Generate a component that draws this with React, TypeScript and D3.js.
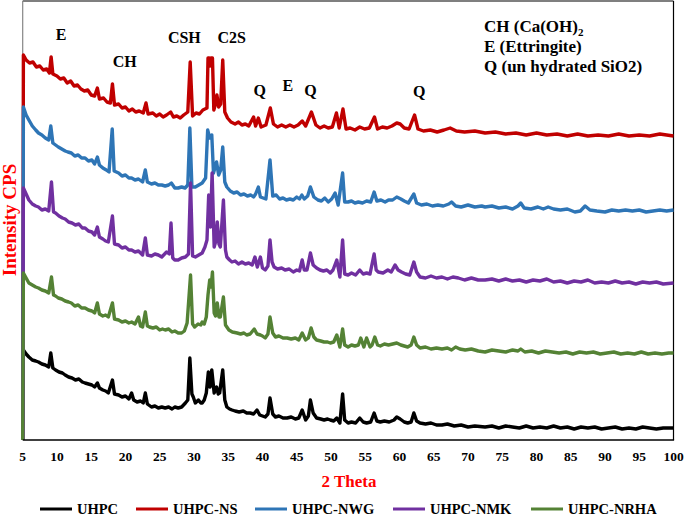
import React from "react";
import * as d3 from "d3";

// ---------- data ----------
const xTicks = [5, 10, 15, 20, 25, 30, 35, 40, 45, 50, 55, 60, 65, 70, 75, 80, 85, 90, 95, 100];

const seriesNames = ["UHPC", "UHPC-NS", "UHPC-NWG", "UHPC-NMK", "UHPC-NRHA"];
const seriesColors = ["#000000", "#C00000", "#2E75B6", "#7030A0", "#548235"];

// [2θ, intensity (stacked, arbitrary CPS units)]
const uhpc: [number, number][] = [[5.0,0],[5.1,90],[5.5,86],[5.9,83],[6.4,80],[6.9,79],[7.3,78],[7.8,76],[8.3,75],[8.8,73],[9.1,87],[9.4,72],[9.8,70],[10.3,68],[10.8,67],[11.2,65],[11.7,63],[12.2,62],[12.7,60],[13.2,61],[13.7,58],[14.1,57],[14.6,56],[15.1,55],[15.5,53],[15.9,57],[16.2,52],[16.7,50],[17.1,49],[17.5,47],[18.1,60],[18.4,46],[19.0,45],[19.5,43],[20.0,44],[20.5,41],[20.9,47],[21.2,40],[21.7,38],[22.2,39],[22.6,37],[22.9,47],[23.2,36],[23.8,33],[24.3,34],[24.8,32],[25.3,33],[25.8,32],[26.3,33],[26.8,31],[27.2,33],[27.7,32],[28.2,33],[28.75,37],[29.1,40],[29.4,82],[29.7,46],[29.9,43],[30.2,37],[30.65,40],[31.0,37],[31.2,37],[31.5,40],[31.8,47],[32.1,68],[32.35,53],[32.6,70],[32.95,47],[33.1,50],[33.3,53],[33.55,46],[33.75,47],[34.2,70],[34.5,40],[34.8,33],[35.2,31],[35.55,30],[36.0,29],[36.6,28],[37.2,29],[37.7,27],[38.2,27],[38.7,26],[39.2,30],[39.6,25],[40.0,24],[40.4,23],[40.8,26],[41.1,42],[41.5,26],[41.9,23],[42.4,24],[43.0,22],[43.6,22],[44.2,23],[44.8,21],[45.3,22],[45.8,30],[46.3,20],[46.7,24],[47.0,40],[47.4,27],[47.9,22],[48.5,21],[49.0,20],[49.5,21],[49.9,20],[50.4,19],[50.85,22],[51.3,17],[51.7,46],[52.0,20],[52.5,17],[53.0,18],[53.6,17],[54.2,22],[54.7,18],[55.2,17],[55.8,18],[56.3,27],[56.7,19],[57.2,18],[57.8,19],[58.5,18],[59.2,20],[59.6,23],[60.1,21],[60.7,18],[61.2,17],[61.7,18],[62.1,27],[62.5,19],[63.0,17],[63.8,16],[64.6,17],[65.4,15],[66.2,15],[67.0,16],[68.0,14],[69.0,15],[70.0,13],[71.0,14],[72.5,13],[73.5,14],[74.5,12],[75.5,14],[76.5,13],[77.5,12],[78.5,14],[79.5,12],[80.5,13],[81.5,12],[82.5,14],[83.5,12],[84.5,13],[85.5,11],[86.5,13],[87.5,12],[88.5,13],[89.5,11],[90.5,12],[91.5,13],[92.5,11],[93.5,12],[94.5,11],[95.5,13],[96.5,12],[97.5,11],[98.5,12],[100.0,12]];

const uhpcNS: [number, number][] = [[5.0,0],[5.1,385],[5.5,380],[6.0,377],[6.5,378],[7.0,373],[7.5,374],[8.0,370],[8.5,371],[8.9,367],[9.15,383],[9.4,366],[10.0,364],[10.5,361],[11.0,362],[11.5,357],[12.0,359],[12.5,354],[13.0,355],[13.5,351],[14.0,349],[14.5,350],[15.0,345],[15.5,344],[15.9,352],[16.2,341],[16.8,342],[17.3,338],[17.8,337],[18.1,356],[18.4,335],[19.0,336],[19.5,332],[20.0,333],[20.5,329],[21.0,331],[21.5,328],[22.0,329],[22.6,327],[23.0,337],[23.3,326],[24.0,327],[24.5,324],[25.0,326],[25.5,323],[26.0,325],[26.6,328],[27.0,323],[27.5,324],[28.0,322],[28.5,325],[29.1,328],[29.45,378],[29.8,324],[30.3,327],[30.8,326],[31.3,330],[31.9,332],[32.05,382],[32.2,382],[32.35,374],[32.5,382],[32.7,382],[32.9,330],[33.1,335],[33.35,345],[33.6,333],[33.9,336],[34.2,380],[34.5,328],[34.9,322],[35.4,318],[36.0,316],[36.5,318],[37.0,315],[37.5,316],[38.0,314],[38.7,323],[39.0,314],[39.4,322],[39.8,313],[40.5,315],[41.15,332],[41.6,316],[42.2,313],[42.8,315],[43.4,313],[44.0,315],[44.6,313],[45.2,315],[45.8,319],[46.3,314],[47.15,328],[47.8,315],[48.4,312],[49.0,314],[49.6,312],[50.2,313],[50.8,327],[51.2,312],[51.75,331],[52.2,311],[52.8,312],[53.5,310],[54.2,313],[54.9,311],[55.6,312],[56.35,323],[56.8,311],[57.5,313],[58.2,312],[58.9,314],[59.6,317],[60.1,316],[60.7,312],[61.4,311],[62.2,325],[62.7,311],[63.5,309],[64.5,310],[65.5,308],[66.5,310],[67.4,312],[68.3,309],[69.5,308],[71.0,309],[72.5,307],[74.0,308],[75.5,306],[77.0,307],[78.5,305],[80.0,307],[81.5,305],[83.0,306],[84.5,304],[86.0,306],[87.5,304],[89.0,305],[90.5,304],[92.0,306],[93.5,304],[95.0,305],[96.5,304],[98.0,306],[100.0,304]];

const uhpcNWG: [number, number][] = [[5.0,0],[5.1,333],[5.5,325],[5.9,320],[6.4,314],[6.9,310],[7.3,307],[7.8,305],[8.3,302],[8.8,300],[9.1,314],[9.4,297],[9.8,295],[10.2,293],[10.7,291],[11.2,289],[11.6,288],[12.1,287],[12.6,284],[13.1,285],[13.6,282],[14.1,282],[14.6,279],[15.1,280],[15.5,276],[15.9,283],[16.2,275],[16.7,272],[17.2,270],[17.6,268],[18.07,311],[18.35,269],[19.0,267],[19.5,264],[20.0,265],[20.5,262],[20.9,262],[21.4,260],[21.9,261],[22.5,258],[22.9,270],[23.2,258],[23.8,256],[24.3,257],[24.8,255],[25.3,255],[25.8,254],[26.3,255],[26.7,257],[27.2,252],[27.7,252],[28.2,253],[28.7,252],[29.1,255],[29.4,312],[29.7,253],[30.2,253],[30.7,255],[31.2,257],[31.7,262],[32.0,310],[32.3,302],[32.6,305],[32.85,267],[33.05,272],[33.3,278],[33.6,265],[33.9,270],[34.2,293],[34.5,258],[34.8,253],[35.3,249],[35.8,247],[36.3,248],[36.8,245],[37.3,246],[37.8,244],[38.3,245],[38.7,243],[39.0,246],[39.4,253],[39.7,243],[40.1,242],[40.5,241],[41.1,280],[41.5,244],[42.0,245],[42.5,241],[43.0,242],[43.5,240],[44.0,241],[44.5,240],[45.0,243],[45.4,241],[45.75,245],[46.1,241],[46.6,244],[47.0,253],[47.5,243],[48.1,240],[48.6,239],[49.1,242],[49.6,238],[50.1,241],[50.6,247],[51.05,235],[51.7,267],[52.0,238],[52.5,238],[53.0,239],[53.5,237],[54.0,238],[54.6,237],[55.2,239],[55.8,238],[56.3,248],[56.7,239],[57.3,240],[57.9,238],[58.4,240],[59.0,240],[59.6,243],[60.2,241],[60.7,239],[61.3,237],[62.1,246],[62.5,237],[63.2,235],[64.0,236],[64.8,234],[65.6,235],[66.4,234],[67.2,236],[67.6,238],[68.2,234],[69.0,233],[70.0,235],[71.0,233],[72.0,234],[72.5,233],[73.5,234],[74.5,232],[75.5,233],[76.5,231],[77.3,234],[77.7,237],[78.2,232],[79.2,231],[80.2,233],[81.0,231],[81.7,233],[82.5,231],[83.5,230],[84.5,231],[85.6,228],[86.4,229],[87.1,234],[87.8,230],[88.8,229],[90.0,228],[91.0,230],[92.0,229],[93.0,230],[94.0,229],[95.0,230],[96.0,228],[97.0,229],[98.0,230],[99.0,229],[100.0,230]];

const uhpcNMK: [number, number][] = [[5.0,0],[5.1,252],[5.5,246],[5.9,240],[6.4,236],[6.9,234],[7.3,233],[7.8,230],[8.3,231],[8.8,229],[9.2,258],[9.5,228],[9.8,227],[10.3,224],[10.8,222],[11.2,221],[11.7,218],[12.2,217],[12.7,215],[13.2,216],[13.7,212],[14.1,212],[14.6,209],[15.1,208],[15.5,205],[15.9,213],[16.2,203],[16.7,201],[17.1,199],[17.5,198],[18.1,224],[18.4,196],[19.0,195],[19.5,192],[20.0,193],[20.5,190],[20.9,190],[21.4,188],[21.9,189],[22.5,185],[22.9,202],[23.2,185],[23.8,184],[24.3,186],[24.8,185],[25.3,183],[26.0,188],[26.4,186],[26.65,217],[26.9,182],[27.2,180],[27.7,180],[28.2,182],[28.75,183],[29.2,186],[29.5,257],[29.8,184],[30.2,183],[30.7,185],[31.2,187],[31.6,193],[31.9,200],[32.15,245],[32.4,213],[32.65,267],[32.95,193],[33.15,198],[33.4,218],[33.65,196],[33.85,193],[34.3,240],[34.6,190],[34.8,183],[35.2,180],[35.55,178],[36.0,179],[36.5,176],[37.0,178],[37.5,176],[38.0,177],[38.5,175],[38.9,183],[39.25,173],[39.7,183],[40.0,172],[40.4,170],[40.8,174],[41.1,200],[41.4,178],[41.7,173],[42.2,171],[42.8,172],[43.3,170],[43.9,171],[44.5,168],[45.0,170],[45.4,169],[45.8,180],[46.1,170],[46.5,170],[47.0,187],[47.4,175],[47.9,172],[48.4,170],[48.9,169],[49.4,170],[49.9,167],[50.3,170],[50.85,180],[51.3,163],[51.7,200],[52.0,166],[52.5,165],[53.0,167],[53.6,165],[54.2,170],[54.7,166],[55.2,167],[55.7,166],[56.3,186],[56.6,170],[56.9,168],[57.6,167],[58.3,170],[58.8,168],[59.35,175],[59.8,170],[60.3,168],[60.9,166],[61.5,165],[62.1,178],[62.5,168],[63.0,163],[63.8,162],[64.6,164],[65.4,162],[66.2,163],[67.0,161],[67.8,163],[68.6,162],[69.5,160],[70.5,162],[71.5,160],[72.5,160],[73.5,161],[74.5,159],[75.5,161],[76.5,159],[77.5,160],[78.5,158],[79.5,160],[80.5,159],[81.5,161],[82.5,158],[83.5,159],[84.5,157],[85.5,159],[86.5,158],[87.5,160],[88.5,157],[89.5,158],[90.5,157],[91.5,159],[92.5,157],[93.5,158],[94.5,156],[95.5,158],[96.5,157],[97.5,158],[98.5,156],[100.0,157]];

const uhpcNRHA: [number, number][] = [[5.0,0],[5.1,167],[5.5,162],[5.9,157],[6.4,155],[6.9,153],[7.3,152],[7.8,150],[8.3,149],[8.8,147],[9.2,163],[9.5,145],[9.8,144],[10.2,142],[10.7,141],[11.2,139],[11.7,138],[12.1,137],[12.6,134],[13.1,135],[13.6,132],[14.1,132],[14.6,130],[15.1,129],[15.5,127],[15.9,137],[16.2,126],[16.7,124],[17.1,125],[17.5,123],[18.1,137],[18.4,121],[19.0,120],[19.5,118],[20.0,119],[20.5,117],[20.9,118],[21.4,116],[21.9,123],[22.2,114],[22.5,113],[22.9,128],[23.2,114],[23.5,113],[24.0,112],[24.5,113],[25.0,110],[25.4,111],[25.8,110],[26.3,111],[26.8,108],[27.2,109],[27.7,107],[28.2,107],[28.6,109],[29.0,117],[29.5,165],[29.8,116],[30.1,113],[30.6,116],[31.0,115],[31.2,118],[31.5,116],[31.8,123],[32.05,145],[32.3,160],[32.5,153],[32.7,168],[32.95,127],[33.15,124],[33.4,137],[33.65,123],[33.85,123],[34.3,143],[34.6,115],[35.1,110],[35.6,108],[36.3,107],[36.8,106],[37.3,107],[37.7,105],[38.2,106],[38.8,111],[39.2,106],[39.7,105],[40.0,104],[40.4,102],[40.8,106],[41.1,123],[41.5,107],[41.9,103],[42.4,104],[43.0,102],[43.6,102],[44.2,101],[44.8,102],[45.3,100],[45.8,107],[46.3,100],[46.7,102],[47.1,112],[47.5,103],[47.9,100],[48.5,99],[49.0,98],[49.5,98],[49.9,97],[50.4,98],[50.85,105],[51.3,93],[51.7,111],[52.0,95],[52.5,93],[53.0,95],[53.5,94],[54.0,95],[54.35,102],[54.8,93],[55.2,102],[55.7,93],[56.0,95],[56.4,103],[56.8,95],[57.2,94],[57.8,96],[58.4,95],[59.0,96],[59.6,97],[60.2,95],[60.7,94],[61.2,93],[61.7,95],[62.1,103],[62.5,95],[63.0,92],[63.8,93],[64.6,91],[65.4,92],[66.2,91],[67.0,92],[67.6,90],[68.2,93],[68.8,91],[69.6,90],[70.5,91],[71.5,89],[72.5,88],[73.5,90],[74.5,89],[75.5,88],[76.5,90],[77.3,89],[77.7,91],[78.3,88],[79.3,89],[80.3,87],[81.3,89],[82.3,88],[83.3,87],[84.3,88],[85.3,86],[86.3,88],[87.3,87],[88.3,88],[89.3,86],[90.3,87],[91.3,88],[92.3,86],[93.3,87],[94.3,86],[95.3,88],[96.3,86],[97.3,87],[98.3,86],[99.3,87],[100.0,87]];

const seriesData = [uhpc, uhpcNS, uhpcNWG, uhpcNMK, uhpcNRHA];

// peak annotations: [label, 2θ position, intensity position]
const peakLabels: [string, number, number][] = [
  ["E", 10.6, 400],
  ["CH", 19.9, 373],
  ["CSH", 28.6, 397],
  ["C2S", 35.5, 397],
  ["Q", 39.6, 344],
  ["E", 43.7, 349],
  ["Q", 47.0, 344],
  ["Q", 62.9, 343],
];

const phaseKey = ["E (Ettringite)", "Q (un hydrated SiO2)"];

// ---------- chart ----------
const W = 685;
const H = 520;
const plotLeft = 22.7;
const plotRight = 673.5;
const plotTop = 1;
const plotBottom = 440;
const FONT = "'Liberation Serif', 'Times New Roman', Times, serif";

export default function App() {
  const x = d3.scaleLinear().domain([5, 100]).range([plotLeft, plotRight]);
  const y = d3.scaleLinear().domain([0, 439]).range([plotBottom, plotTop]);
  const line = d3
    .line<[number, number]>()
    .x((d) => x(d[0]))
    .y((d) => y(d[1]));

  const legendX = [40, 136, 255, 393, 531];

  return (
    <svg
      width={W}
      height={H}
      style={{ position: "absolute", left: 0, top: 0, background: "#fff" }}
      fontFamily={FONT}
    >
      <rect x={0} y={0} width={W} height={H} fill="#fff" />
      {/* frame */}
      <line x1={plotLeft} x2={plotRight} y1={plotTop} y2={plotTop} stroke="#000" strokeWidth={1.2} />
      <line x1={plotRight} x2={plotRight} y1={plotTop} y2={plotBottom} stroke="#000" strokeWidth={1.2} />
      <line x1={plotLeft} x2={plotLeft} y1={plotTop} y2={plotBottom} stroke="#868686" strokeWidth={1.2} />

      {/* series */}
      {seriesData.map((s, i) => (
        <path
          key={seriesNames[i]}
          d={line(s) || ""}
          fill="none"
          stroke={seriesColors[i]}
          strokeWidth={3.4}
          strokeLinejoin="round"
          strokeLinecap="butt"
        />
      ))}

      {/* x axis */}
      <line x1={plotLeft} x2={plotRight + 0.6} y1={plotBottom} y2={plotBottom} stroke="#000" strokeWidth={1.6} />
      {xTicks.map((t) => (
        <text
          key={t}
          x={x(t)}
          y={461}
          textAnchor="middle"
          fontSize={13.5}
          fontWeight="bold"
          fill="#000"
        >
          {t}
        </text>
      ))}
      <text x={349} y={487} textAnchor="middle" fontSize={17} fontWeight="bold" fill="#FF0000">
        2 Theta
      </text>
      <text
        transform={`translate(16,220) rotate(-90)`}
        textAnchor="middle"
        fontSize={19}
        fontWeight="bold"
        fill="#FF0000"
      >
        Intensity CPS
      </text>

      {/* peak labels */}
      {peakLabels.map(([lab, t, v], i) => (
        <text
          key={i}
          x={x(t)}
          y={y(v)}
          textAnchor="middle"
          fontSize={16}
          fontWeight="bold"
          fill="#000"
        >
          {lab}
        </text>
      ))}

      {/* phase key */}
      <text x={484} y={32} fontSize={17} fontWeight="bold" fill="#000">
        CH (Ca(OH)
        <tspan fontSize={11} dy={4}>2</tspan>
      </text>
      {phaseKey.map((k, i) => (
        <text key={k} x={484} y={52 + i * 20} fontSize={17} fontWeight="bold" fill="#000">
          {k}
        </text>
      ))}

      {/* legend */}
      {seriesNames.map((n, i) => (
        <g key={n} transform={`translate(${legendX[i]},509)`}>
          <line x1={0} x2={32} y1={0} y2={0} stroke={seriesColors[i]} strokeWidth={3} />
          <text x={37} y={5} fontSize={14.5} fontWeight="bold" fill="#000">
            {n}
          </text>
        </g>
      ))}
    </svg>
  );
}
